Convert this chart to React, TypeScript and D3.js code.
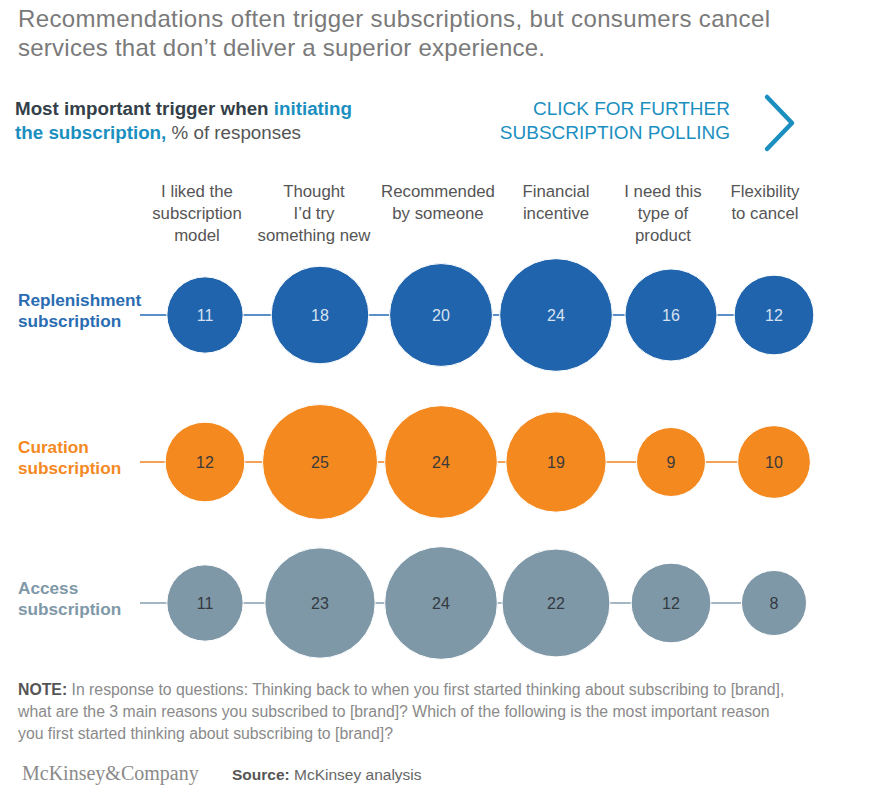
import React from "react";
import * as d3 from "d3";

const categories: string[][] = [
  ["I liked the", "subscription", "model"],
  ["Thought", "I\u2019d try", "something new"],
  ["Recommended", "by someone"],
  ["Financial", "incentive"],
  ["I need this", "type of", "product"],
  ["Flexibility", "to cancel"],
];
const seriesNames: string[][] = [
  ["Replenishment", "subscription"],
  ["Curation", "subscription"],
  ["Access", "subscription"],
];
const replenishment = [11, 18, 20, 24, 16, 12];
const curation = [12, 25, 24, 19, 9, 10];
const access = [11, 23, 24, 22, 12, 8];
const seriesValues = [replenishment, curation, access];

const colX = [205, 320, 441, 556, 671, 774];
const headerShift = [-8, -6, -3, 0, -8, -9];
const rowY = [315, 462, 603];
const fills = ["#2064ad", "#f4891f", "#7f98a8"];
const lineColors = ["#5a8fc8", "#f6a35a", "#a3b6c2"];
const labelColors = ["#2a6cb2", "#f4891f", "#7f98a8"];
const numColors = ["#d6e2f0", "#3a3a3a", "#333a40"];

const FONT = "'Liberation Sans', Arial, sans-serif";

export default function App() {
  const r = d3.scaleSqrt().domain([0, 25]).range([0, 57.5]);
  return (
    <svg width={878} height={789} style={{ position: "absolute", left: 0, top: 0 }} fontFamily={FONT}>
      <rect width={878} height={789} fill="#fff" />
      <text x={18} y={27} fontSize={24} fill="#7a7a7a" textLength={752}>
        Recommendations often trigger subscriptions, but consumers cancel
      </text>
      <text x={18} y={56} fontSize={24} fill="#7a7a7a" textLength={527}>
        services that don’t deliver a superior experience.
      </text>

      <text x={15} y={115} fontSize={18.8} fontWeight="bold">
        <tspan fill="#343f49">Most important trigger when </tspan>
        <tspan fill="#1b8fc0">initiating</tspan>
      </text>
      <text x={15} y={139} fontSize={18.8}>
        <tspan fill="#1b8fc0" fontWeight="bold">the subscription,</tspan>
        <tspan fill="#555"> % of responses</tspan>
      </text>

      <text x={730} y={115} fontSize={19} fill="#1b8fc0" textAnchor="end">CLICK FOR FURTHER</text>
      <text x={730} y={139} fontSize={19} fill="#1b8fc0" textAnchor="end">SUBSCRIPTION POLLING</text>
      <path d="M767,97 L792,123 L767,149" fill="none" stroke="#1b8fc0" strokeWidth={4.5} strokeLinecap="round" strokeLinejoin="round" />

      {categories.map((lines, i) => (
        <text key={i} x={colX[i] + headerShift[i]} textAnchor="middle" fontSize={16.8} fill="#555">
          {lines.map((l, j) => (
            <tspan key={j} x={colX[i] + headerShift[i]} y={197 + j * 22}>{l}</tspan>
          ))}
        </text>
      ))}

      {seriesValues.map((vals, s) => (
        <g key={s}>
          <line x1={140} x2={colX[colX.length - 1]} y1={rowY[s]} y2={rowY[s]} stroke={lineColors[s]} strokeWidth={2} />
          <text fontSize={17.2} fontWeight="bold" fill={labelColors[s]}>
            <tspan x={18} y={rowY[s] - 9}>{seriesNames[s][0]}</tspan>
            <tspan x={18} y={rowY[s] + 12}>{seriesNames[s][1]}</tspan>
          </text>
          {vals.map((v, i) => (
            <g key={i}>
              <circle cx={colX[i]} cy={rowY[s]} r={r(v)} fill={fills[s]} stroke="#fff" strokeWidth={1} />
              <text x={colX[i]} y={rowY[s] + 6} textAnchor="middle" fontSize={16} fill={numColors[s]}>{v}</text>
            </g>
          ))}
        </g>
      ))}

      <text x={18} y={695} fontSize={15.8} fill="#8a8a8a">
        <tspan fontWeight="bold" fill="#555">NOTE:</tspan> In response to questions: Thinking back to when you first started thinking about subscribing to [brand],
      </text>
      <text x={18} y={717} fontSize={15.8} fill="#8a8a8a">
        what are the 3 main reasons you subscribed to [brand]? Which of the following is the most important reason
      </text>
      <text x={18} y={739} fontSize={15.8} fill="#8a8a8a">
        you first started thinking about subscribing to [brand]?
      </text>

      <text x={22} y={780} fontSize={20} fill="#8a8a8a" fontFamily="'Liberation Serif', 'DejaVu Serif', serif">McKinsey&amp;Company</text>
      <text x={232} y={780} fontSize={15.5} fill="#666">
        <tspan fontWeight="bold" fill="#555">Source:</tspan> McKinsey analysis
      </text>
    </svg>
  );
}
